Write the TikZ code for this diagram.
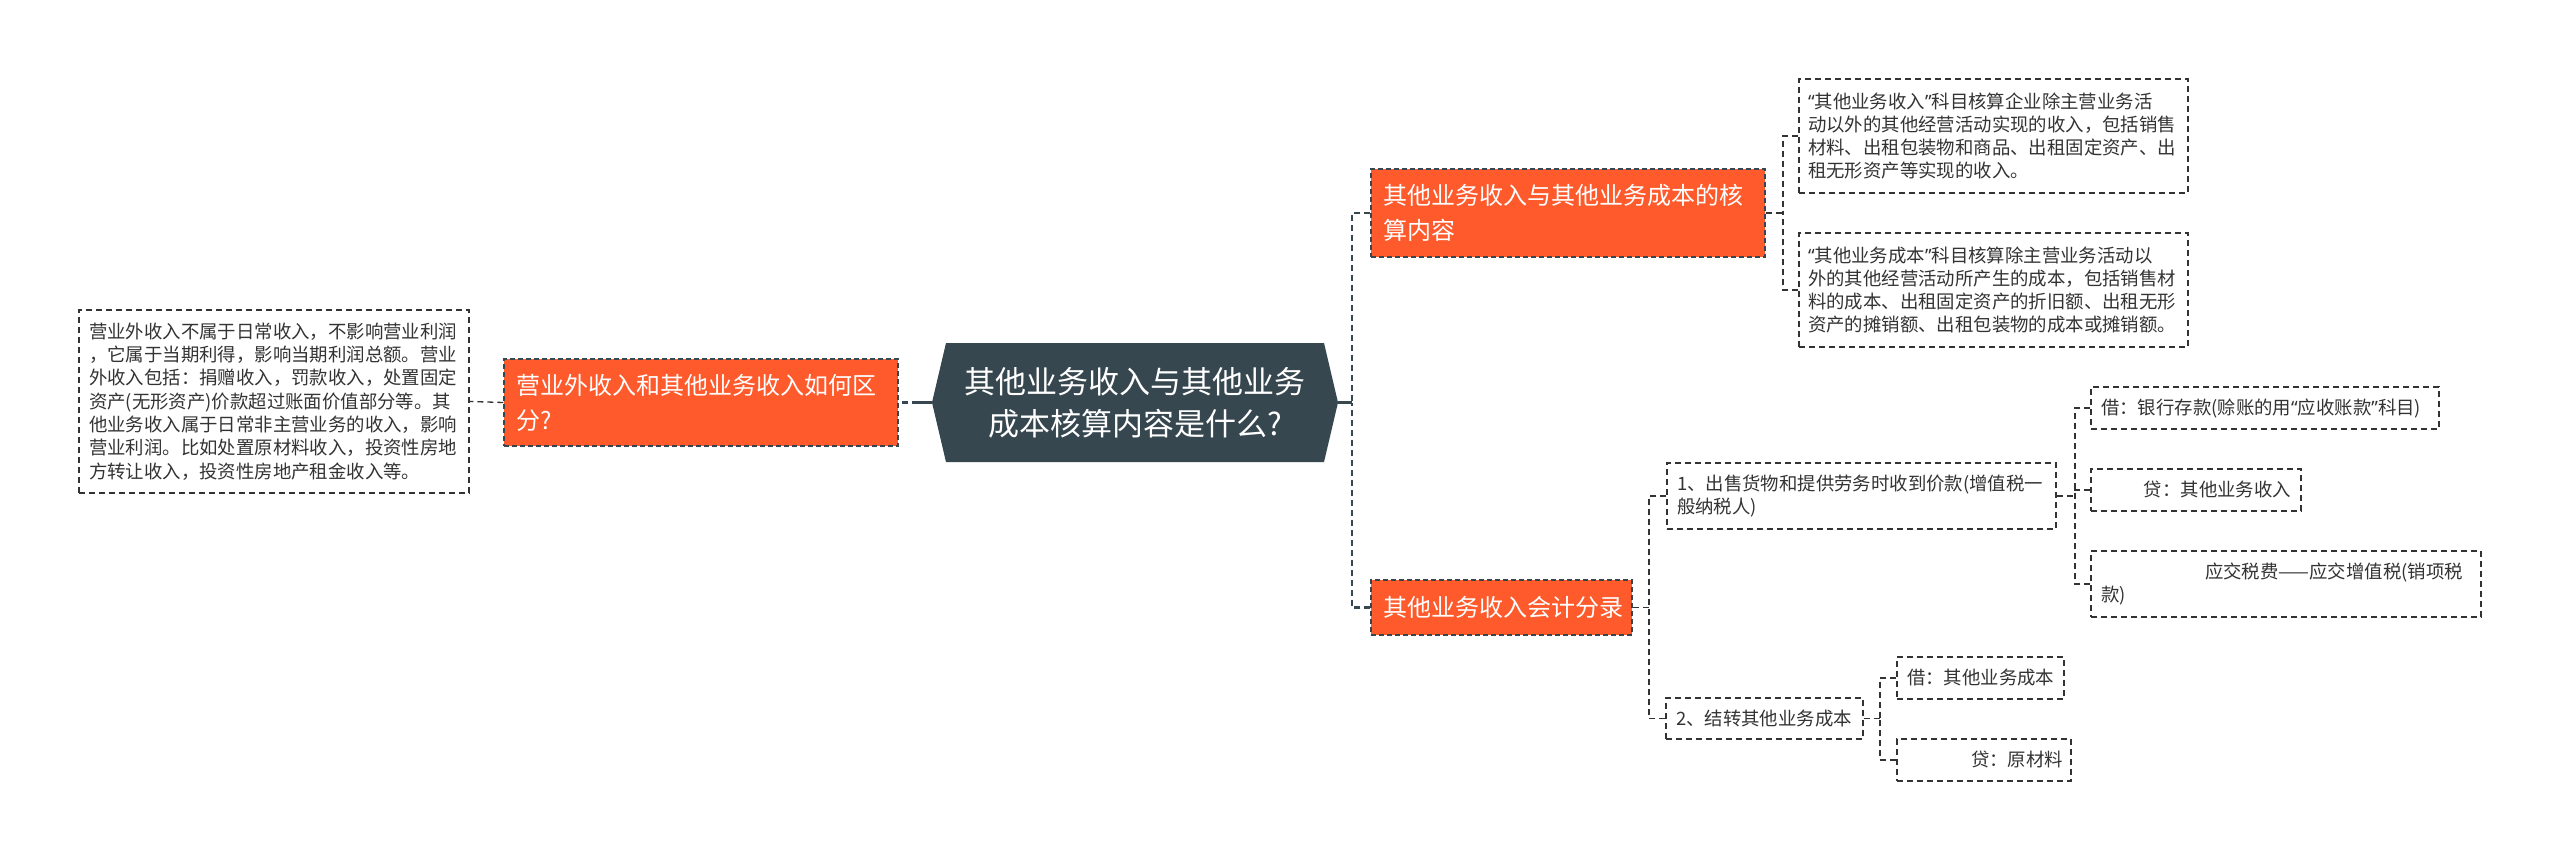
\documentclass[tikz,border=0pt]{standalone}
\usepackage{fontspec}
\setmainfont{Noto Sans CJK SC}
\newfontfamily\latq{Noto Sans}
\newcommand{\myLq}{{\latq “}}
\newcommand{\myRq}{{\latq ”}}
\definecolor{orangeC}{HTML}{FE5A2C}
\definecolor{slate}{HTML}{37474F}
\definecolor{txt}{HTML}{333333}
\tikzset{
  leaf/.style={draw=txt, line width=1.3pt, dash pattern=on 6pt off 4pt, fill=white, text=txt,
    align=left, inner xsep=10pt, inner ysep=0pt, font=\fontsize{18.4pt}{23.3pt}\selectfont},
  leafr/.style={leaf, align=right},
  topic/.style={draw=slate, line width=1.3pt, dash pattern=on 5pt off 3pt, fill=orangeC, text=white,
    align=left, inner xsep=12pt, inner ysep=0pt, font=\fontsize{24pt}{35pt}\selectfont},
  mainnode/.style={text=white, align=center, inner sep=0pt, font=\fontsize{31pt}{42pt}\selectfont},
  trunk/.style={draw=slate, line width=2.5pt, dash pattern=on 6pt off 4pt},
  conn/.style={draw=txt, line width=1.3pt, dash pattern=on 6pt off 4pt},
  solidconn/.style={draw=slate, line width=3pt},
}
\begin{document}
\begin{tikzpicture}[x=1pt,y=-1pt]
\useasboundingbox (0,0) rectangle (2560,861);
\fill[white] (0,0) rectangle (2560,861);

% central node
\fill[slate] (946,343) -- (1324,343) -- (1338,402.5) -- (1324,462) -- (946,462) -- (932,402.5) -- cycle;
\node[mainnode, minimum width=406pt, minimum height=119pt] (c) at (1135,402.5)
  {其他业务收入与其他业务\\成本核算内容是什么?};

% left branch
\node[topic, text width=370pt, minimum height=87pt] (L) at (701,402.5)
  {营业外收入和其他业务收入如何区\\分?};
\node[leaf, text width=370pt, minimum height=183pt] (LL) at (274,401.5)
  {营业外收入不属于日常收入，不影响营业利润\\，它属于当期利得，影响当期利润总额。营业\\外收入包括：捐赠收入，罚款收入，处置固定\\资产(无形资产)价款超过账面价值部分等。其\\他业务收入属于日常非主营业务的收入，影响\\营业利润。比如处置原材料收入，投资性房地\\方转让收入，投资性房地产租金收入等。};

% right level 1
\node[topic, text width=370pt, minimum height=88pt] (R1) at (1568,213)
  {其他业务收入与其他业务成本的核\\算内容};
\node[topic, text width=237pt, minimum height=55pt] (R2) at (1501.5,607.5)
  {其他业务收入会计分录};

% leaves of R1
\node[leaf, inner xsep=9pt, text width=371pt, minimum height=114pt] (A) at (1993.5,136)
  {\myLq 其他业务收入\myRq 科目核算企业除主营业务活\\动以外的其他经营活动实现的收入，包括销售\\材料、出租包装物和商品、出租固定资产、出\\租无形资产等实现的收入。};
\node[leaf, inner xsep=9pt, text width=371pt, minimum height=114pt] (B) at (1993.5,290)
  {\myLq 其他业务成本\myRq 科目核算除主营业务活动以\\外的其他经营活动所产生的成本，包括销售材\\料的成本、出租固定资产的折旧额、出租无形\\资产的摊销额、出租包装物的成本或摊销额。};

% children of R2
\node[leaf, text width=369pt, minimum height=66pt] (N1) at (1861.5,496)
  {1、出售货物和提供劳务时收到价款(增值税一\\般纳税人)};
\node[leaf, text width=177pt, minimum height=41pt] (N2) at (1764.5,718.5)
  {2、结转其他业务成本};

\node[leaf, text width=328pt, minimum height=42pt] (D1) at (2265,408)
  {借：银行存款(赊账的用\myLq 应收账款\myRq 科目)};
\node[leafr, text width=190pt, minimum height=42pt] (D2) at (2196,490)
  {贷：其他业务收入};
\node[leaf, text width=370pt, minimum height=66pt] (D3) at (2286,584)
  {\hspace*{104pt}应交税费——应交增值税(销项税\\款)};

\node[leaf, text width=147pt, minimum height=42pt] (E1) at (1980.5,678)
  {借：其他业务成本};
\node[leafr, inner xsep=8pt, text width=158pt, minimum height=42pt] (E2) at (1984,760)
  {贷：原材料};

% junction points
\coordinate (tL) at (918,402.5);
\coordinate (t0) at (1352,402.5);
\coordinate (tA) at (1783,213);
\coordinate (tB) at (1649,607.5);
\coordinate (tC) at (2075,496);
\coordinate (tD) at (1880,718.5);

% connectors
\draw[solidconn] (c.west) -- (tL);
\draw[trunk] (tL) -- (L.east);
\draw[conn] (L.west) -- (LL.east);

\draw[solidconn] (c.east) -- (t0);
\draw[trunk] (R1.west) -| (t0);
\draw[trunk] (R2.west) -| (t0);

\draw[conn] (R1.east) -- (tA);
\draw[conn] (A.west) -| (tA);
\draw[conn] (B.west) -| (tA);

\draw[conn] (R2.east) -- (tB);
\draw[conn] (N1.west) -| (tB);
\draw[conn] (N2.west) -| (tB);

\draw[conn] (N1.east) -- (tC);
\draw[conn] (D1.west) -| (tC);
\draw[conn] (D2.west) -| (tC);
\draw[conn] (D3.west) -| (tC);

\draw[conn] (N2.east) -- (tD);
\draw[conn] (E1.west) -| (tD);
\draw[conn] (E2.west) -| (tD);
\end{tikzpicture}
\end{document}
